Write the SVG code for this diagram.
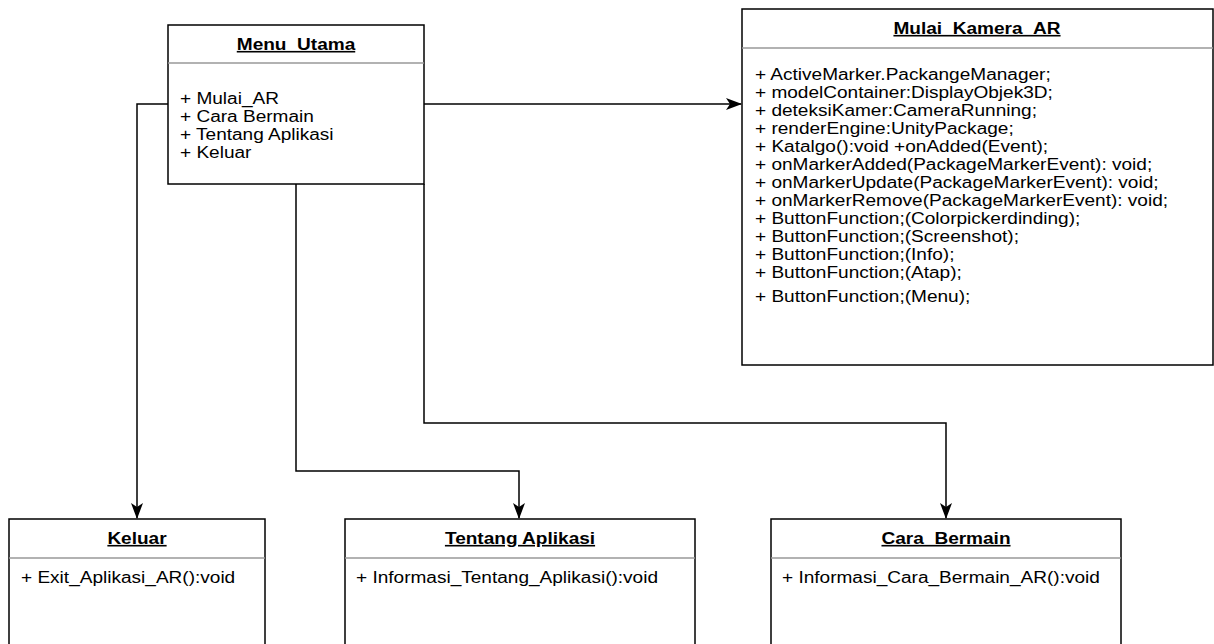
<svg xmlns="http://www.w3.org/2000/svg" width="1214" height="644" viewBox="0 0 1214 644">
<style>
.box{fill:#fff;stroke:#000;stroke-width:1.5}
.div{stroke:#999;stroke-width:1.5}
.t{font-family:"Liberation Sans",Arial,sans-serif;font-size:16px;fill:#000}
.h{font-weight:bold;text-decoration:underline;text-anchor:middle}
.c{fill:none;stroke:#000;stroke-width:1.5}
</style>
<defs>
<marker id="arr" viewBox="0 0 16 12" refX="15" refY="6" markerWidth="16" markerHeight="12" markerUnits="userSpaceOnUse" orient="auto">
<path d="M0,0 L16,6 L0,12 L4,6 Z" fill="#000"/>
</marker>
</defs>
<rect width="1214" height="644" fill="#fff"/>
<g id="connectors">
<path class="c" d="M168,104 H137 V518" marker-end="url(#arr)"/>
<path class="c" d="M424,104 H741" marker-end="url(#arr)"/>
<path class="c" d="M296,184 V471 H519 V518" marker-end="url(#arr)"/>
<path class="c" d="M424,184 V423 H946 V518" marker-end="url(#arr)"/>
</g>
<g id="menu_utama">
<rect class="box" x="168" y="25" width="256" height="159"/>
<line class="div" x1="168" y1="63" x2="424" y2="63"/>
<g transform="translate(296,0) scale(1.19,1)"><text class="t h" x="0" y="50">Menu_Utama</text></g>
<g transform="translate(180,0) scale(1.19,1)">
<text class="t" x="0" y="104">+ Mulai_AR</text>
<text class="t" x="0" y="122">+ Cara Bermain</text>
<text class="t" x="0" y="140">+ Tentang Aplikasi</text>
<text class="t" x="0" y="158">+ Keluar</text>
</g>
</g>
<g id="mulai_kamera_ar">
<rect class="box" x="742" y="9" width="471" height="356"/>
<line class="div" x1="742" y1="48" x2="1213" y2="48"/>
<g transform="translate(977,0) scale(1.19,1)"><text class="t h" x="0" y="34">Mulai_Kamera_AR</text></g>
<g transform="translate(755,0) scale(1.19,1)">
<text class="t" x="0" y="80">+ ActiveMarker.PackangeManager;</text>
<text class="t" x="0" y="98">+ modelContainer:DisplayObjek3D;</text>
<text class="t" x="0" y="116">+ deteksiKamer:CameraRunning;</text>
<text class="t" x="0" y="134">+ renderEngine:UnityPackage;</text>
<text class="t" x="0" y="152">+ Katalgo():void +onAdded(Event);</text>
<text class="t" x="0" y="170">+ onMarkerAdded(PackageMarkerEvent): void;</text>
<text class="t" x="0" y="188">+ onMarkerUpdate(PackageMarkerEvent): void;</text>
<text class="t" x="0" y="206">+ onMarkerRemove(PackageMarkerEvent): void;</text>
<text class="t" x="0" y="224">+ ButtonFunction;(Colorpickerdinding);</text>
<text class="t" x="0" y="242">+ ButtonFunction;(Screenshot);</text>
<text class="t" x="0" y="260">+ ButtonFunction;(Info);</text>
<text class="t" x="0" y="278">+ ButtonFunction;(Atap);</text>
<text class="t" x="0" y="302">+ ButtonFunction;(Menu);</text>
</g>
</g>
<g id="keluar">
<rect class="box" x="9" y="519" width="256" height="200"/>
<line class="div" x1="9" y1="558" x2="265" y2="558"/>
<g transform="translate(137,0) scale(1.19,1)"><text class="t h" x="0" y="544">Keluar</text></g>
<g transform="translate(21,0) scale(1.19,1)"><text class="t" x="0" y="583">+ Exit_Aplikasi_AR():void</text></g>
</g>
<g id="tentang_aplikasi">
<rect class="box" x="345" y="519" width="350" height="200"/>
<line class="div" x1="345" y1="558" x2="695" y2="558"/>
<g transform="translate(520,0) scale(1.19,1)"><text class="t h" x="0" y="544">Tentang Aplikasi</text></g>
<g transform="translate(356,0) scale(1.19,1)"><text class="t" x="0" y="583">+ Informasi_Tentang_Aplikasi():void</text></g>
</g>
<g id="cara_bermain">
<rect class="box" x="771" y="519" width="350" height="200"/>
<line class="div" x1="771" y1="558" x2="1121" y2="558"/>
<g transform="translate(946,0) scale(1.19,1)"><text class="t h" x="0" y="544">Cara_Bermain</text></g>
<g transform="translate(782,0) scale(1.19,1)"><text class="t" x="0" y="583">+ Informasi_Cara_Bermain_AR():void</text></g>
</g>
</svg>
